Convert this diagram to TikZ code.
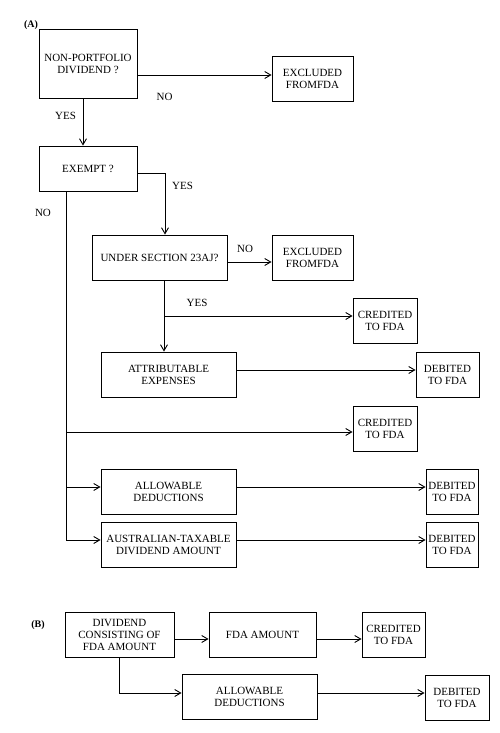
\documentclass[tikz,border=0pt]{standalone}
\usepackage{fontspec}
\setmainfont{Liberation Serif}
\usetikzlibrary{arrows.meta}
\begin{document}
\begin{tikzpicture}[x=1pt,y=-1pt,line width=0.9pt,
  >={Straight Barb[length=6pt,width=7pt]},
  box/.style={draw, minimum height=45pt, align=center, inner sep=1pt, font=\fontsize{11}{12}\selectfont},
  lbl/.style={font=\fontsize{11}{12}\selectfont}]
\useasboundingbox (0,0) rectangle (500,733);
\node[font=\bfseries\fontsize{10}{12}\selectfont] (labA) at (31,25) {(A)};
\node[box, minimum width=98pt, minimum height=69pt] (np) at (88,63.5) {NON-PORTFOLIO\\DIVIDEND ?};
\node[box, minimum width=81pt] (excl1) at (312.5,78.5) {EXCLUDED\\FROMFDA};
\node[box, minimum width=98pt] (ex) at (88,168.5) {EXEMPT ?};
\node[box, minimum width=135pt] (sec) at (159.5,257.5) {UNDER SECTION 23AJ?};
\node[box, minimum width=81pt] (excl2) at (312.5,257.5) {EXCLUDED\\FROMFDA};
\node[box, minimum width=64pt] (cred1) at (385,320.5) {CREDITED\\TO FDA};
\node[box, minimum width=135pt] (attr) at (168.5,374.5) {ATTRIBUTABLE\\EXPENSES};
\node[box, minimum width=63pt] (deb1) at (447.5,374.5) {DEBITED\\TO FDA};
\node[box, minimum width=64pt] (cred2) at (385,428.5) {CREDITED\\TO FDA};
\node[box, minimum width=135pt] (allow) at (168.5,491.5) {ALLOWABLE\\DEDUCTIONS};
\node[box, minimum width=52pt] (deb2) at (452,491.5) {DEBITED\\TO FDA};
\node[box, minimum width=135pt] (aus) at (168.5,544.5) {AUSTRALIAN-TAXABLE\\DIVIDEND AMOUNT};
\node[box, minimum width=52pt] (deb3) at (452,544.5) {DEBITED\\TO FDA};
\node[lbl] (no1) at (164.5,97) {NO};
\node[lbl] (yes1) at (65.5,115.5) {YES};
\node[lbl] (yes2) at (182.5,186) {YES};
\node[lbl] (no2) at (43,213) {NO};
\node[lbl] (no3) at (245,248.5) {NO};
\node[lbl] (yes3) at (197,303) {YES};
\coordinate (jy) at (164,316);
\coordinate (jc) at (66,432);
\coordinate (ja) at (66,487);
\draw[->] (np.east |- 0,75) -- (excl1.west |- 0,75);
\draw[->] (np.south -| 83,0) -- (ex.north -| 83,0);
\draw[->] (ex.east |- 0,173) -| (sec.north -| 165,0);
\draw[->] (sec.east |- 0,262) -- (excl2.west |- 0,262);
\draw[->] (sec.south -| 164,0) -- (attr.north -| 164,0);
\draw[->] (jy) -- (cred1.west |- jy);
\draw[->] (attr.east |- 0,370) -- (deb1.west |- 0,370);
\draw[->] (ex.south -| 66,0) |- (aus.west |- 0,540);
\draw[->] (jc) -- (cred2.west |- jc);
\draw[->] (ja) -- (allow.west |- ja);
\draw[->] (allow.east |- ja) -- (deb2.west |- ja);
\draw[->] (aus.east |- 0,540) -- (deb3.west |- 0,540);
\node[font=\bfseries\fontsize{10}{12}\selectfont] (labB) at (38,625) {(B)};
\node[box, minimum width=109pt] (div) at (119.5,634.5) {DIVIDEND\\CONSISTING OF\\FDA AMOUNT};
\node[box, minimum width=107pt] (amt) at (262.5,634.5) {FDA AMOUNT};
\node[box, minimum width=63pt] (cred3) at (393.5,634.5) {CREDITED\\TO FDA};
\node[box, minimum width=135pt] (allow2) at (249.5,696.5) {ALLOWABLE\\DEDUCTIONS};
\node[box, minimum width=64pt] (deb4) at (457,697.5) {DEBITED\\TO FDA};
\draw[->] (div.east |- 0,639) -- (amt.west |- 0,639);
\draw[->] (amt.east |- 0,639) -- (cred3.west |- 0,639);
\draw[->] (div.south -| 119,0) |- (allow2.west |- 0,693);
\draw[->] (allow2.east |- 0,693) -- (deb4.west |- 0,693);
\end{tikzpicture}
\end{document}
